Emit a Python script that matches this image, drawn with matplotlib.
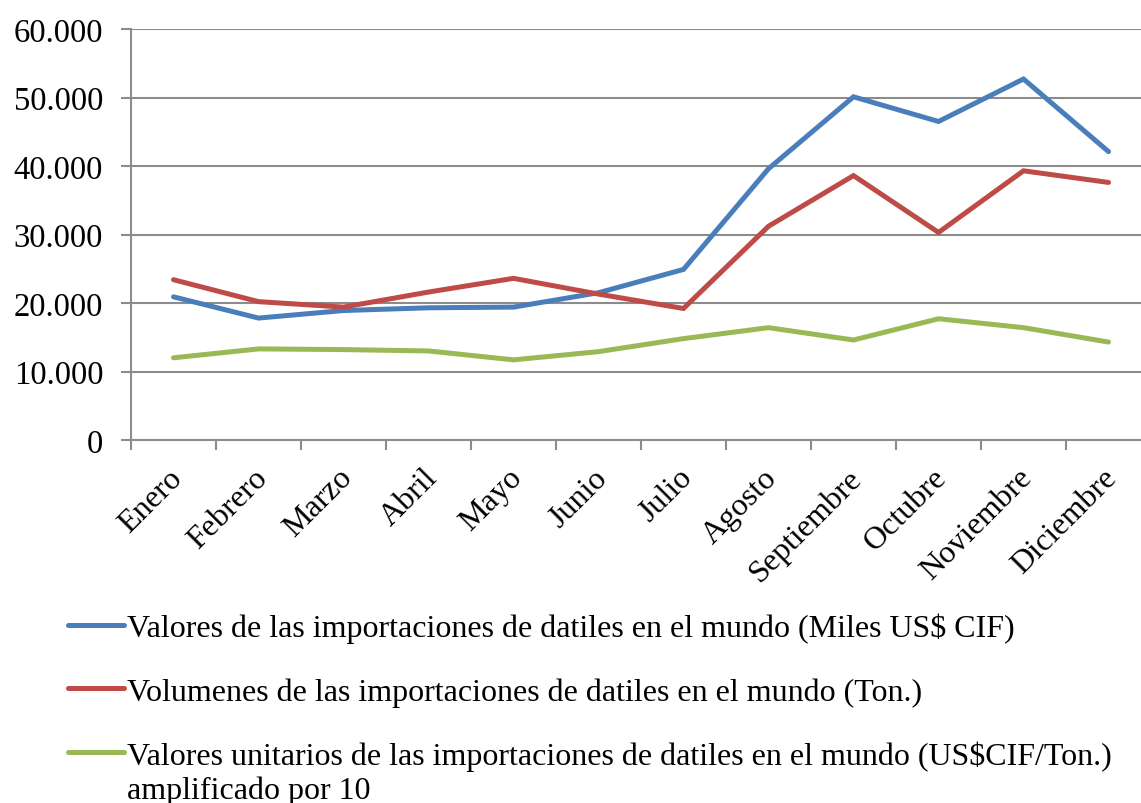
import matplotlib
matplotlib.use('Agg')
import matplotlib.pyplot as plt
from matplotlib.ticker import FuncFormatter, MultipleLocator
from matplotlib.transforms import ScaledTranslation

plt.rcParams['font.family'] = ['Liberation Serif', 'DejaVu Serif']

# Monthly world date imports
meses = ['Enero', 'Febrero', 'Marzo', 'Abril', 'Mayo', 'Junio', 'Julio',
         'Agosto', 'Septiembre', 'Octubre', 'Noviembre', 'Diciembre']
valores = [20900, 17800, 18900, 19300, 19400, 21500, 24900,
           39600, 50100, 46500, 52700, 42100]
volumenes = [23400, 20200, 19400, 21600, 23600, 21300, 19200,
             31200, 38600, 30300, 39300, 37600]
unitarios = [12000, 13300, 13200, 13000, 11700, 12900, 14800,
             16400, 14600, 17700, 16400, 14300]

nombres = ['Valores de las importaciones de datiles en el mundo (Miles US$ CIF)',
           'Volumenes de las importaciones de datiles en el mundo (Ton.)',
           'Valores unitarios de las importaciones de datiles en el mundo '
           '(US$CIF/Ton.)']
nota = 'amplificado por 10'
colores = ['#4A7EBB', '#BE4B48', '#98B954']

fig = plt.figure(figsize=(11.41, 8.04), dpi=100)
ax = fig.add_axes([131 / 1141, 363 / 804, 1020 / 1141, 411 / 804])

x = list(range(len(meses)))
lines = []
for serie, color in zip([valores, volumenes, unitarios], colores):
    ln, = ax.plot(x, serie, color=color, lw=3.6, solid_capstyle='round',
                  solid_joinstyle='miter')
    lines.append(ln)

ax.set_xlim(-0.5, len(meses) - 0.5)
ax.set_ylim(0, 60000)
ax.yaxis.set_major_locator(MultipleLocator(10000))
ax.yaxis.set_major_formatter(
    FuncFormatter(lambda v, p: f'{int(v):,}'.replace(',', '.')))
ax.grid(axis='y', color='#8c8c8c', lw=1.5)
ax.set_axisbelow(True)

for s in ['top', 'right']:
    ax.spines[s].set_visible(False)
for s in ['left', 'bottom']:
    ax.spines[s].set_color('#8c8c8c')
    ax.spines[s].set_linewidth(1.5)

ax.set_xticks(x)
ax.set_xticklabels(meses, rotation=45, ha='right', rotation_mode='anchor',
                   fontsize=23)
ax.set_xticks([i - 0.5 for i in range(len(meses) + 1)], minor=True)
ax.tick_params(axis='x', which='major', length=0, pad=10)
ax.tick_params(axis='x', which='minor', length=7, width=1.5,
               color='#8c8c8c')
ax.tick_params(axis='y', length=7, width=1.5, color='#8c8c8c',
               labelsize=23.5, pad=13)
shift = ScaledTranslation(-6 / 100, -9 / 100, fig.dpi_scale_trans)
for lab in ax.get_xticklabels():
    lab.set_transform(lab.get_transform() + shift)

leg = fig.legend(lines, nombres, loc='upper left',
                 bbox_to_anchor=(68 / 1141, 1 - 614 / 804),
                 frameon=False, fontsize=23, handlelength=1.75,
                 handletextpad=0.1, labelspacing=1.05, borderpad=0,
                 borderaxespad=0)

# second line of the last legend entry, under its first line
fig.canvas.draw()
bb = leg.get_texts()[2].get_window_extent()
fig.text(bb.x0 / 1141, (bb.y0 - 5) / 804, nota, fontsize=23,
         ha='left', va='top')

fig.savefig('out.png', dpi=100)
